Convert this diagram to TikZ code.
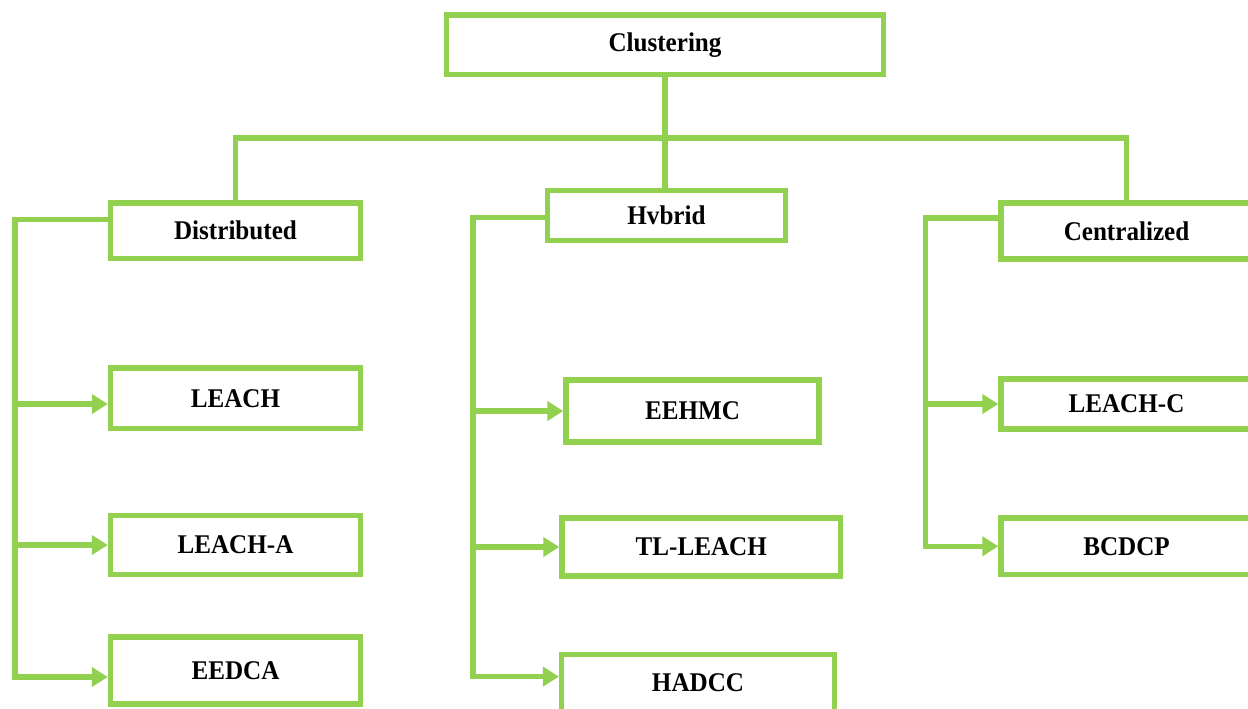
\documentclass[tikz,border=0pt]{standalone}
\usepackage{fontspec}
\setmainfont{Liberation Serif}[FakeStretch=0.93]
\usetikzlibrary{arrows.meta}
\definecolor{leafgreen}{RGB}{146,208,80}

\begin{document}
\begin{tikzpicture}[x=0.5pt,y=-0.5pt,
  box/.style={draw=leafgreen, line width=2.7pt, inner sep=0pt, font=\fontsize{13.5}{16}\selectfont\bfseries},
  link/.style={draw=leafgreen, line width=2.7pt},
  arr/.style={link, -{Triangle[length=8pt,width=9.5pt]}}]
\useasboundingbox (0,0) rectangle (1248,708);

\node[box, minimum width=218.5pt, minimum height=29.75pt] (clus) at (665,44.75) {Clustering};

\node[box, minimum width=125pt, minimum height=27.75pt] (dist) at (235.5,230.75) {Distributed};
\node[box, minimum width=119pt, minimum height=25pt] (hyb) at (666.5,215.5) {Hvbrid};
\node[box, minimum width=125.5pt, minimum height=28pt] (cent) at (1126.5,231) {Centralized};

\node[box, minimum width=125pt, minimum height=30.25pt] (leach) at (235.5,398.25) {LEACH};
\node[box, minimum width=125pt, minimum height=29.5pt] (leacha) at (235.5,545) {LEACH-A};
\node[box, minimum width=125pt, minimum height=33.5pt] (eedca) at (235.5,670.5) {EEDCA};

\node[box, minimum width=126.5pt, minimum height=31pt] (eehmc) at (692.5,411) {EEHMC};
\node[box, minimum width=139.25pt, minimum height=29pt] (tlleach) at (701.25,547) {TL-LEACH};
\node[box, minimum width=136.4pt, minimum height=28.5pt] (hadcc) at (698,683) {HADCC};

\node[box, minimum width=125.5pt, minimum height=25pt] (leachc) at (1126.5,404) {LEACH-C};
\node[box, minimum width=125.5pt, minimum height=28.25pt] (bcdcp) at (1126.5,546.25) {BCDCP};

\coordinate (bus) at (665,137.8);
\draw[link] (clus.south) -- (clus.south |- hyb.north);
\draw[link] (dist.north) |- (bus) -| (cent.north);

\coordinate (dtrunk) at (15,219.5);
\draw[arr] (dtrunk -| dist.west) -- (dtrunk) |- ([yshift=-3.25pt]eedca.west);
\draw[arr] ([yshift=-2.9pt]leach.west -| dtrunk) -- ([yshift=-2.9pt]leach.west);
\draw[arr] (leacha.west -| dtrunk) -- (leacha.west);

\coordinate (htrunk) at (473,217.5);
\draw[arr] (htrunk -| hyb.west) -- (htrunk) |- ([yshift=3.2pt]hadcc.west);
\draw[arr] (eehmc.west -| htrunk) -- (eehmc.west);
\draw[arr] (tlleach.west -| htrunk) -- (tlleach.west);

\coordinate (ctrunk) at (925.5,218);
\draw[arr] (ctrunk -| cent.west) -- (ctrunk) |- (bcdcp.west);
\draw[arr] (leachc.west -| ctrunk) -- (leachc.west);
\end{tikzpicture}
\end{document}
